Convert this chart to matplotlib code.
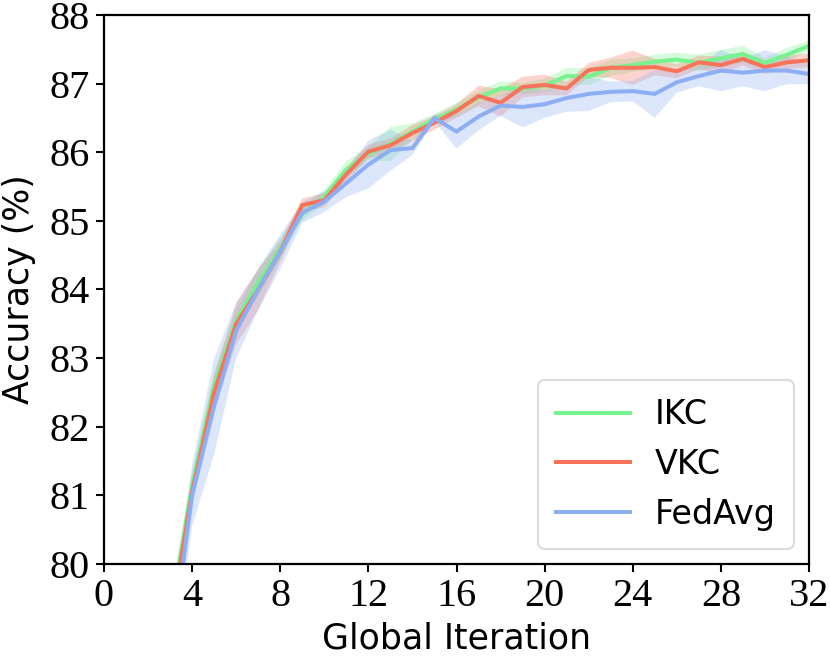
import matplotlib

matplotlib.use("Agg")
import matplotlib.pyplot as plt
import numpy as np

iterations = list(range(1, 33))

ikc_mean = [66.0, 75.0, 79.2, 81.15, 82.6, 83.55, 84.1, 84.6, 85.1, 85.35,
            85.75, 85.98, 86.12, 86.3, 86.48, 86.62, 86.8, 86.93, 86.93, 86.97,
            87.11, 87.1, 87.23, 87.27, 87.32, 87.35, 87.3, 87.37, 87.43, 87.3,
            87.42, 87.55]
ikc_std = [0.5, 0.4, 0.3, 0.2, 0.2, 0.15, 0.2, 0.15, 0.1, 0.1,
           0.12, 0.1, 0.25, 0.12, 0.08, 0.1, 0.1, 0.1, 0.08, 0.1,
           0.12, 0.12, 0.12, 0.1, 0.1, 0.1, 0.12, 0.12, 0.12, 0.08,
           0.1, 0.08]

vkc_mean = [65.5, 74.8, 79.1, 81.05, 82.5, 83.5, 84.0, 84.55, 85.23, 85.3,
            85.68, 86.01, 86.1, 86.28, 86.43, 86.6, 86.82, 86.72, 86.95, 86.98,
            86.93, 87.2, 87.23, 87.23, 87.24, 87.18, 87.31, 87.27, 87.36, 87.24,
            87.31, 87.34]
vkc_std = [0.5, 0.4, 0.3, 0.2, 0.25, 0.3, 0.3, 0.15, 0.1, 0.1,
           0.1, 0.1, 0.1, 0.12, 0.1, 0.1, 0.15, 0.2, 0.15, 0.15,
           0.1, 0.1, 0.15, 0.25, 0.12, 0.1, 0.1, 0.12, 0.1, 0.1,
           0.1, 0.1]

fedavg_mean = [64.0, 74.0, 78.6, 81.0, 82.3, 83.4, 84.0, 84.55, 85.12, 85.28,
               85.55, 85.82, 86.03, 86.06, 86.5, 86.3, 86.52, 86.68, 86.66, 86.7,
               86.79, 86.85, 86.88, 86.89, 86.85, 87.02, 87.11, 87.19, 87.16, 87.19,
               87.19, 87.14]
fedavg_std = [0.8, 0.6, 0.5, 0.45, 0.7, 0.4, 0.3, 0.25, 0.15, 0.15,
              0.2, 0.35, 0.3, 0.1, 0.05, 0.25, 0.2, 0.15, 0.3, 0.2,
              0.2, 0.25, 0.15, 0.15, 0.35, 0.15, 0.15, 0.3, 0.2, 0.3,
              0.2, 0.15]

series = [
    ("IKC", ikc_mean, ikc_std, "#76F28E"),
    ("VKC", vkc_mean, vkc_std, "#F9735B"),
    ("FedAvg", fedavg_mean, fedavg_std, "#8DAEF2"),
]

fig = plt.figure(figsize=(8.3, 6.57), dpi=100)
ax = fig.add_axes([0.1253, 0.1416, 0.8494, 0.8356])

x = np.array(iterations)
for name, mean, std, color in series:
    m = np.array(mean)
    s = np.array(std)
    ax.fill_between(x, m - s, m + s, color=color, alpha=0.3, linewidth=0)
for name, mean, std, color in series:
    ax.plot(x, mean, color=color, linewidth=2.9, label=name)

ax.set_xlim(0, 32)
ax.set_ylim(80, 88)
ax.set_xticks(range(0, 33, 4))
ax.set_yticks(range(80, 89))

ax.tick_params(direction="out", length=6, width=1.5, pad=4,
               labelsize=29, labelfontfamily="Liberation Serif")
for sp in ax.spines.values():
    sp.set_linewidth(1.6)

ax.set_xlabel("Global Iteration", fontsize=25, family="DejaVu Sans", labelpad=5)
ax.set_ylabel("Accuracy (%)", fontsize=25, family="DejaVu Sans", labelpad=10)

leg = ax.legend(loc="lower right", fontsize=24, handlelength=2.2,
                handletextpad=0.75, labelspacing=0.5, framealpha=1,
                borderpad=0.55, borderaxespad=0.45)
leg.get_frame().set_edgecolor("#d8dcdc")
leg.get_frame().set_linewidth(1.5)

fig.savefig("out.png", dpi=100)
